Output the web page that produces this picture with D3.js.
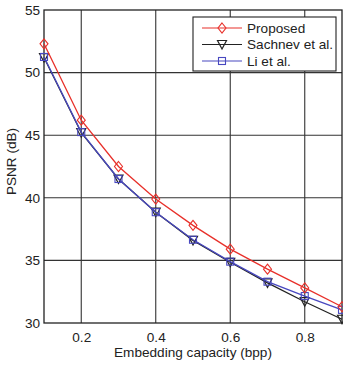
<!DOCTYPE html>
<html><head><meta charset="utf-8">
<script src="https://cdn.jsdelivr.net/npm/d3@7"></script>
<style>body{margin:0;background:#fff}svg{display:block;font-family:"Liberation Sans",Arial,sans-serif}</style>
</head><body><svg id="c" width="343" height="365"></svg>
<script>
const capacity = [0.1,0.2,0.3,0.4,0.5,0.6,0.7,0.8,0.9];
const proposed = [52.3,46.2,42.5,39.9,37.8,35.9,34.3,32.8,31.3];
const sachnev  = [51.2,45.2,41.5,38.85,36.6,34.85,33.2,31.7,30.3];
const li       = [51.25,45.25,41.5,38.85,36.65,34.9,33.3,32.15,31.05];
const seriesNames = ["Proposed","Sachnev et al.","Li et al."];
const xTicks = [0.2,0.4,0.6,0.8];
const yTicks = [30,35,40,45,50,55];

const svg = d3.select("#c");
const L=44,R=342,T=10,B=323;
const FS=13.6;
const x = d3.scaleLinear().domain([0.1,0.9]).range([L,R]);
const y = d3.scaleLinear().domain([30,55]).range([B,T]);
const gridC="#333";
svg.append("g").selectAll("line").data(xTicks).join("line")
  .attr("x1",d=>x(d)).attr("x2",d=>x(d)).attr("y1",T).attr("y2",B)
  .attr("stroke",gridC).attr("stroke-width",1.1);
svg.append("g").selectAll("line").data(yTicks.slice(1,-1)).join("line")
  .attr("x1",L).attr("x2",R).attr("y1",d=>y(d)).attr("y2",d=>y(d))
  .attr("stroke",gridC).attr("stroke-width",1.1);
svg.append("rect").attr("x",L).attr("y",T).attr("width",R-L).attr("height",B-T)
  .attr("fill","none").attr("stroke","#222").attr("stroke-width",1.3);
const xa = svg.append("g").attr("transform",`translate(0,${B})`)
  .call(d3.axisBottom(x).tickValues(xTicks).tickSize(0).tickPadding(9).tickFormat(d3.format(".1f")));
const ya = svg.append("g").attr("transform",`translate(${L},0)`)
  .call(d3.axisLeft(y).tickValues(yTicks).tickSize(0).tickPadding(4).tickFormat(d3.format("d")));
[xa,ya].forEach(a=>{a.select(".domain").remove();a.selectAll("text").attr("font-size",FS).attr("fill","#222").attr("font-family","Liberation Sans, Arial, sans-serif");});
svg.append("text").attr("x",(L+R)/2).attr("y",357).attr("text-anchor","middle")
  .attr("font-size",FS).attr("fill","#222").text("Embedding capacity (bpp)");
svg.append("text").attr("transform",`translate(16,${(T+B)/2-5}) rotate(-90)`).attr("text-anchor","middle")
  .attr("font-size",FS).attr("fill","#222").text("PSNR (dB)");

const colors=["#e8302a","#222222","#4848c0"];
const data=[proposed,sachnev,li];
const line=d3.line().x((d,i)=>x(capacity[i])).y(d=>y(d));
function marker(g,k,cx,cy,c){
  if(k===0) g.append("path").attr("d",`M${cx},${cy-5}L${cx+4},${cy}L${cx},${cy+5}L${cx-4},${cy}Z`).attr("fill","none").attr("stroke",c).attr("stroke-width",1.1);
  else if(k===1) g.append("path").attr("d",`M${cx-4.5},${cy-4}L${cx+4.5},${cy-4}L${cx},${cy+4.5}Z`).attr("fill","none").attr("stroke",c).attr("stroke-width",1.2);
  else g.append("rect").attr("x",cx-3.5).attr("y",cy-3.5).attr("width",7).attr("height",7).attr("fill","none").attr("stroke",c).attr("stroke-width",1.1);
}
const plot=svg.append("g");
[1,2,0].forEach(k=>{
  plot.append("path").datum(data[k]).attr("d",line).attr("fill","none").attr("stroke",colors[k]).attr("stroke-width",1.3);
  data[k].forEach((v,i)=>marker(plot,k,x(capacity[i]),y(v),colors[k]));
});
const lg=svg.append("g");
lg.append("rect").attr("x",193).attr("y",17).attr("width",143).attr("height",54).attr("fill","#fff").attr("stroke","#222").attr("stroke-width",1.1);
seriesNames.forEach((n,k)=>{
  const yy=28+k*16.5;
  lg.append("line").attr("x1",202).attr("x2",242).attr("y1",yy).attr("y2",yy).attr("stroke",colors[k]).attr("stroke-width",1.2);
  marker(lg,k,222,yy,colors[k]);
  lg.append("text").attr("x",247).attr("y",yy+4.8).attr("font-size",FS).attr("fill","#222").text(n);
});
</script></body></html>
